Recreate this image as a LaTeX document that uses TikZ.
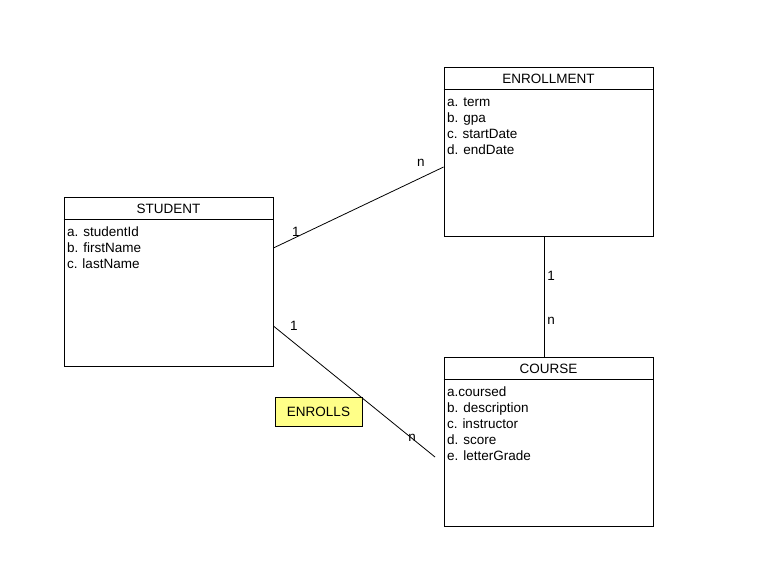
\documentclass[tikz,border=0pt]{standalone}
\usepackage{fontspec}
\setmainfont{Liberation Sans}
\usetikzlibrary{positioning}

\definecolor{relfill}{RGB}{255,255,136}

\tikzset{
  entity/.style={draw, line width=0.8pt, minimum width=209pt, minimum height=169pt, inner sep=0pt},
  attr/.style={anchor=base west, inner sep=0pt},
  card/.style={inner sep=0pt},
  relbox/.style={draw, line width=0.6pt, fill=relfill, minimum width=87pt, minimum height=29pt, inner sep=0pt}
}

\begin{document}
\begin{tikzpicture}[x=1pt, y=-1pt, font=\fontsize{13.5}{16}\selectfont, line width=0.8pt]
\useasboundingbox (0,0) rectangle (766,584);

% Entities
\node[entity] (student) at (168.5,281.5) {};
\node[entity] (enrollment) at (548.5,151.5) {};
\node[entity] (course) at (548.5,441.5) {};

% Header lines and titles
\foreach \e/\title in {student/STUDENT, enrollment/ENROLLMENT, course/COURSE} {
  \draw ([yshift=-23pt]\e.north west) -- ([yshift=-23pt]\e.north east);
  \node (\e-title) at ([yshift=-12.5pt]\e.north) {\title};
}

% Attributes
\foreach \t [count=\i] in {a. studentId, b. firstName, c. lastName}
  \node[attr] (student-a\i) at ([xshift=3pt, yshift={-39.5pt-16pt*(\i-1)}]student.north west) {\t};
\foreach \t [count=\i] in {a. term, b. gpa, c. startDate, d. endDate}
  \node[attr] (enrollment-a\i) at ([xshift=3pt, yshift={-39.5pt-16pt*(\i-1)}]enrollment.north west) {\t};
\foreach \t [count=\i] in {a.coursed, b. description, c. instructor, d. score, e. letterGrade}
  \node[attr] (course-a\i) at ([xshift=3pt, yshift={-39.5pt-16pt*(\i-1)}]course.north west) {\t};

% Relationship label
\node[relbox] (enrolls) at (318.5,411.5) {ENROLLS};

% Connectors
\coordinate (enrolls-end) at (435,457);
\draw ([yshift=33.5pt]student.east) -- ([yshift=-15.5pt]enrollment.west);
\draw ([yshift=-44.5pt]student.east) -- (enrolls-end);
\draw ([xshift=-4.5pt]enrollment.south) -- ([xshift=-4.5pt]course.north);

% Cardinalities
\node[card] (c1) at (296,232) {1};
\node[card] (c2) at (421,163) {n};
\node[card] (c3) at (294,326) {1};
\node[card] (c4) at (412,438) {n};
\node[card] (c5) at (551,276) {1};
\node[card] (c6) at (551,321) {n};

\end{tikzpicture}
\end{document}
